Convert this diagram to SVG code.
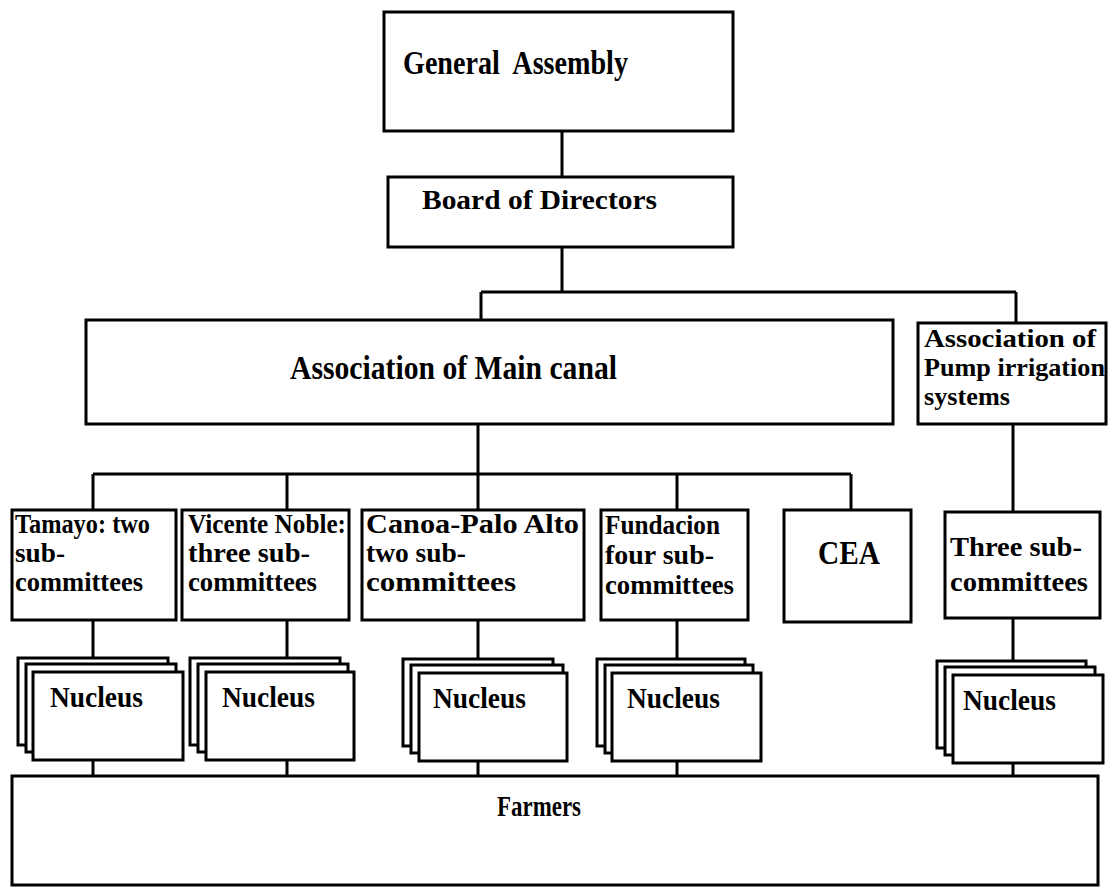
<svg xmlns="http://www.w3.org/2000/svg" width="1108" height="890" viewBox="0 0 1108 890">
<style>
.box{fill:#fff;stroke:#000;stroke-width:3}
.conn{fill:none;stroke:#000;stroke-width:3}
text{font-family:"Liberation Serif","Times New Roman",serif;font-weight:bold;fill:#000}
.t26{font-size:27px}
.nuc{font-size:30px}
</style>
<rect width="1108" height="890" fill="#fff"/>
<g id="connectors">
<path class="conn" d="M562 131V177"/>
<path class="conn" d="M562 247V292M481 292H1016M481 292V320M1016 292V323"/>
<path class="conn" d="M478 424V474M93 474H851M93 474V510M287 474V510M478 474V510M677 474V510M851 474V510"/>
<path class="conn" d="M1013 424V512"/>
<path class="conn" d="M93 620V658M287 620V658M478 620V659M677 620V659M1013 618V661"/>
<path class="conn" d="M93 760V776M287 760V776M478 761V776M677 761V776M1013 763V776"/>
</g>
<g id="general-assembly">
<rect class="box" x="384" y="12" width="349" height="119"/>
<text x="403" y="74" font-size="33" textLength="225" lengthAdjust="spacingAndGlyphs" xml:space="preserve">General  Assembly</text>
</g>
<g id="board">
<rect class="box" x="388" y="177" width="345" height="70"/>
<text x="422" y="209" font-size="28" textLength="235" lengthAdjust="spacingAndGlyphs">Board of Directors</text>
</g>
<g id="main-canal">
<rect class="box" x="86" y="320" width="807" height="104"/>
<text x="290" y="379" font-size="34" textLength="327" lengthAdjust="spacingAndGlyphs">Association of Main canal</text>
</g>
<g id="pump">
<rect class="box" x="918" y="323" width="188" height="101"/>
<text x="924" y="347" font-size="26" textLength="172" lengthAdjust="spacingAndGlyphs">Association of</text>
<text x="924" y="376" font-size="26" textLength="181" lengthAdjust="spacingAndGlyphs">Pump irrigation</text>
<text x="924" y="405" font-size="26" textLength="86" lengthAdjust="spacingAndGlyphs">systems</text>
</g>
<g id="tamayo">
<rect class="box" x="12" y="510" width="164" height="110"/>
<text class="t26" x="15" y="533" textLength="135" lengthAdjust="spacingAndGlyphs">Tamayo: two</text>
<text class="t26" x="15" y="562" textLength="50" lengthAdjust="spacingAndGlyphs">sub-</text>
<text class="t26" x="15" y="591" textLength="128" lengthAdjust="spacingAndGlyphs">committees</text>
</g>
<g id="vicente">
<rect class="box" x="182" y="510" width="167" height="110"/>
<text class="t26" x="188" y="533" textLength="158" lengthAdjust="spacingAndGlyphs">Vicente Noble:</text>
<text class="t26" x="188" y="562" textLength="122" lengthAdjust="spacingAndGlyphs">three sub-</text>
<text class="t26" x="188" y="591" textLength="129" lengthAdjust="spacingAndGlyphs">committees</text>
</g>
<g id="canoa">
<rect class="box" x="362" y="510" width="222" height="110"/>
<text class="t26" x="366" y="533" textLength="213" lengthAdjust="spacingAndGlyphs">Canoa-Palo Alto</text>
<text class="t26" x="366" y="562" textLength="100" lengthAdjust="spacingAndGlyphs">two sub-</text>
<text class="t26" x="366" y="591" textLength="150" lengthAdjust="spacingAndGlyphs">committees</text>
</g>
<g id="fundacion">
<rect class="box" x="601" y="510" width="147" height="110"/>
<text class="t26" x="605" y="534" textLength="115" lengthAdjust="spacingAndGlyphs">Fundacion</text>
<text class="t26" x="605" y="564" textLength="109" lengthAdjust="spacingAndGlyphs">four sub-</text>
<text class="t26" x="605" y="594" textLength="129" lengthAdjust="spacingAndGlyphs">committees</text>
</g>
<g id="cea">
<rect class="box" x="784" y="510" width="127" height="112"/>
<text x="818" y="564" font-size="34" textLength="62" lengthAdjust="spacingAndGlyphs">CEA</text>
</g>
<g id="three-sub">
<rect class="box" x="945" y="512" width="155" height="106"/>
<text class="t26" x="950" y="556" textLength="132" lengthAdjust="spacingAndGlyphs">Three sub-</text>
<text class="t26" x="950" y="591" textLength="138" lengthAdjust="spacingAndGlyphs">committees</text>
</g>
<g id="nucleus-1">
<rect class="box" x="18" y="658" width="150" height="87"/>
<rect class="box" x="26" y="664" width="150" height="88"/>
<rect class="box" x="33" y="672" width="150" height="88"/>
<text class="nuc" x="50" y="707" textLength="93" lengthAdjust="spacingAndGlyphs">Nucleus</text>
</g>
<g id="nucleus-2">
<rect class="box" x="190" y="658" width="150" height="87"/>
<rect class="box" x="198" y="664" width="150" height="88"/>
<rect class="box" x="206" y="672" width="148" height="88"/>
<text class="nuc" x="222" y="707" textLength="93" lengthAdjust="spacingAndGlyphs">Nucleus</text>
</g>
<g id="nucleus-3">
<rect class="box" x="403" y="659" width="150" height="87"/>
<rect class="box" x="411" y="665" width="152" height="88"/>
<rect class="box" x="419" y="673" width="148" height="88"/>
<text class="nuc" x="433" y="708" textLength="93" lengthAdjust="spacingAndGlyphs">Nucleus</text>
</g>
<g id="nucleus-4">
<rect class="box" x="597" y="659" width="148" height="87"/>
<rect class="box" x="605" y="665" width="148" height="88"/>
<rect class="box" x="612" y="673" width="149" height="88"/>
<text class="nuc" x="627" y="708" textLength="93" lengthAdjust="spacingAndGlyphs">Nucleus</text>
</g>
<g id="nucleus-5">
<rect class="box" x="937" y="661" width="149" height="87"/>
<rect class="box" x="945" y="667" width="150" height="88"/>
<rect class="box" x="953" y="675" width="150" height="88"/>
<text class="nuc" x="963" y="710" textLength="93" lengthAdjust="spacingAndGlyphs">Nucleus</text>
</g>
<g id="farmers">
<rect class="box" x="12" y="776" width="1086" height="109"/>
<text x="497" y="816" font-size="30" textLength="84" lengthAdjust="spacingAndGlyphs">Farmers</text>
</g>
</svg>
